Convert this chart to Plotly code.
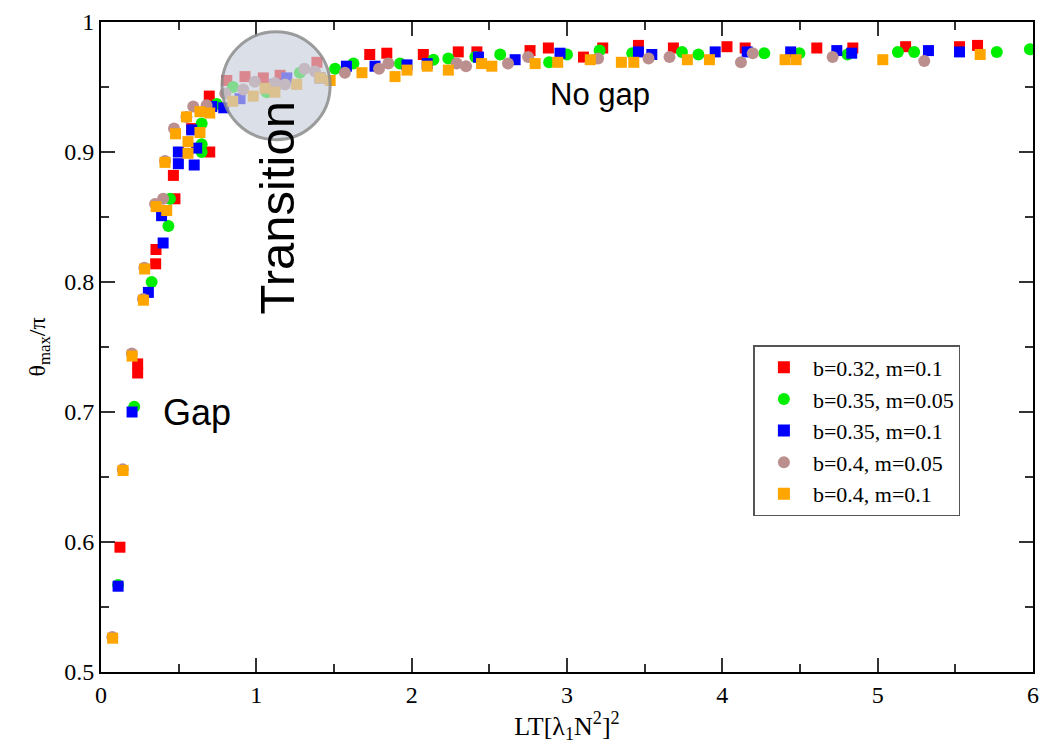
import plotly.graph_objects as go

# ---- data ----
red_x = [0.122, 0.236, 0.236, 0.352, 0.354, 0.466, 0.476, 0.584, 0.70, 0.697, 0.81, 0.927, 1.045, 1.153, 1.39,
         1.73, 1.84, 2.075, 2.30, 2.42, 2.762, 2.88, 3.106, 3.23, 3.46, 3.685, 4.03, 4.147, 4.608, 4.84,
         5.18, 5.527, 5.643]
red_y = [0.596, 0.737, 0.730, 0.814, 0.825, 0.882, 0.864, 0.918, 0.900, 0.943, 0.955, 0.958, 0.957, 0.959, 0.969,
         0.975, 0.976, 0.975, 0.977, 0.977, 0.978, 0.980, 0.973, 0.980, 0.982, 0.980, 0.981, 0.980, 0.980, 0.980,
         0.981, 0.981, 0.982]

green_x = [0.11, 0.214, 0.326, 0.434, 0.444, 0.648, 0.648, 0.648, 0.745, 0.85, 1.067, 1.28, 1.507, 1.625, 1.925,
           2.14, 2.236, 2.41, 2.57, 2.885, 3.0, 3.21, 3.42, 3.74, 3.846, 4.27, 4.496, 4.806, 5.13, 5.235,
           5.767, 5.98]
green_y = [0.567, 0.704, 0.800, 0.843, 0.864, 0.900, 0.906, 0.922, 0.937, 0.950, 0.946, 0.961, 0.964, 0.968, 0.968,
           0.971, 0.972, 0.973, 0.975, 0.969, 0.975, 0.978, 0.976, 0.977, 0.975, 0.976, 0.976, 0.975, 0.977, 0.977,
           0.977, 0.979]

blue_x = [0.11, 0.20, 0.305, 0.40, 0.39, 0.498, 0.60, 0.498, 0.616, 0.584, 0.713, 0.79, 0.895, 1.12, 1.196, 1.41,
          1.58, 1.764, 1.97, 2.10, 2.43, 2.666, 2.955, 3.46, 3.546, 3.954, 4.16, 4.44, 4.737, 4.833, 5.327, 5.527]
blue_y = [0.566, 0.700, 0.792, 0.830, 0.851, 0.891, 0.890, 0.900, 0.903, 0.917, 0.935, 0.934, 0.941, 0.952, 0.957,
          0.957, 0.966, 0.966, 0.967, 0.968, 0.973, 0.971, 0.976, 0.977, 0.975, 0.977, 0.977, 0.977, 0.978, 0.976,
          0.978, 0.977]

brown_x = [0.073, 0.14, 0.198, 0.27, 0.279, 0.348, 0.40, 0.412, 0.47, 0.55, 0.594, 0.68, 0.80, 0.916, 0.99, 1.12,
           1.185, 1.31, 1.378, 1.57, 1.79, 1.85, 2.29, 2.35, 2.62, 2.75, 3.20, 3.525, 3.66, 4.12, 4.196, 4.71, 5.30]
brown_y = [0.527, 0.656, 0.745, 0.787, 0.811, 0.860, 0.864, 0.893, 0.918, 0.927, 0.935, 0.936, 0.945, 0.948, 0.954,
           0.953, 0.952, 0.964, 0.962, 0.961, 0.964, 0.968, 0.968, 0.966, 0.968, 0.973, 0.972, 0.972, 0.973, 0.969,
           0.976, 0.973, 0.970]

orange_x = [0.075, 0.142, 0.20, 0.273, 0.281, 0.355, 0.423, 0.412, 0.48, 0.56, 0.56, 0.637, 0.55, 0.637, 0.70,
            0.848, 0.98, 1.056, 1.12, 1.26, 1.41, 1.475, 1.68, 1.893, 1.97, 2.10, 2.236, 2.45, 2.516, 2.795, 2.94,
            3.15, 3.35, 3.43, 3.775, 3.917, 4.404, 4.475, 5.033, 5.66]
orange_y = [0.526, 0.655, 0.743, 0.786, 0.810, 0.858, 0.855, 0.892, 0.914, 0.899, 0.908, 0.915, 0.927, 0.931, 0.930,
            0.939, 0.943, 0.949, 0.946, 0.952, 0.957, 0.955, 0.961, 0.958, 0.963, 0.966, 0.963, 0.968, 0.966, 0.968,
            0.969, 0.971, 0.969, 0.969, 0.971, 0.971, 0.971, 0.971, 0.971, 0.975]

series_names = ["b=0.32, m=0.1", "b=0.35, m=0.05", "b=0.35, m=0.1", "b=0.4, m=0.05", "b=0.4, m=0.1"]
series_x = [red_x, green_x, blue_x, brown_x, orange_x]
series_y = [red_y, green_y, blue_y, brown_y, orange_y]
series_colors = ["#ff0000", "#00ee00", "#0000ff", "#bc8f8f", "#ffa500"]
series_symbols = ["square", "circle", "square", "circle", "square"]

x_tick_vals = [0, 1, 2, 3, 4, 5, 6]
y_tick_vals = [0.5, 0.6, 0.7, 0.8, 0.9, 1.0]
y_tick_text = ["0.5", "0.6", "0.7", "0.8", "0.9", "1"]

fig = go.Figure()
for name, xs, ys, col, sym in zip(series_names, series_x, series_y, series_colors, series_symbols):
    fig.add_trace(go.Scatter(
        x=xs, y=ys, mode="markers", name=name,
        marker=dict(color=col, symbol=sym, size=11 if sym == "square" else 12, line=dict(width=0)),
    ))

serif = "Liberation Serif, Times New Roman, serif"
sans = "Liberation Sans, Arial, sans-serif"

# transition highlight circle
cx, cy, rx, ry = 1.127, 0.951, 0.348, 0.0415
fig.add_shape(type="circle", xref="x", yref="y",
              x0=cx - rx, x1=cx + rx, y0=cy - ry, y1=cy + ry,
              fillcolor="rgba(200,207,220,0.65)",
              line=dict(color="rgba(140,140,140,0.85)", width=3), layer="above")

fig.add_annotation(x=1.13, y=0.857, text="Transition", textangle=-90, showarrow=False,
                   font=dict(family=sans, size=49, color="black"))
fig.add_annotation(x=0.62, y=0.70, text="Gap", showarrow=False,
                   font=dict(family=sans, size=36, color="black"))
fig.add_annotation(x=3.21, y=0.944, text="No gap", showarrow=False,
                   font=dict(family=sans, size=31, color="black"))

axis_common = dict(
    showline=True, linecolor="black", linewidth=2, mirror="ticks",
    ticks="inside", ticklen=14, tickwidth=1.5, tickcolor="#333",
    showgrid=False, zeroline=False, automargin=False,
    tickfont=dict(family=serif, size=24, color="black"),
)

fig.update_xaxes(range=[0, 6], tickvals=x_tick_vals,
                 minor=dict(ticks="inside", ticklen=8, dtick=0.5, tickcolor="#333", tickwidth=1.5),
                 title=dict(text="LT[λ<sub>1</sub>N<sup>2</sup>]<sup>2</sup>",
                            font=dict(family=serif, size=26, color="black"), standoff=8),
                 **axis_common)
fig.update_yaxes(range=[0.5, 1.0], tickvals=y_tick_vals, ticktext=y_tick_text,
                 minor=dict(ticks="inside", ticklen=8, dtick=0.05, tickcolor="#333", tickwidth=1.5),
                 title=dict(text="θ<sub>max</sub>/π",
                            font=dict(family=serif, size=24, color="black"), standoff=12),
                 **axis_common)

# the page body adds an 8px offset, so the figure is sized to fit inside the window
fig.update_layout(
    width=1039, height=739,
    margin=dict(l=93, r=14, t=14, b=75),
    plot_bgcolor="white", paper_bgcolor="white",
    legend=dict(x=0.70, y=0.503, xanchor="left", yanchor="top",
                bgcolor="white", bordercolor="#555", borderwidth=1.5,
                font=dict(family=serif, size=22, color="black"),
                itemwidth=48,
                itemsizing="constant", tracegroupgap=0),
    showlegend=True,
)

fig.write_html("out.html")
